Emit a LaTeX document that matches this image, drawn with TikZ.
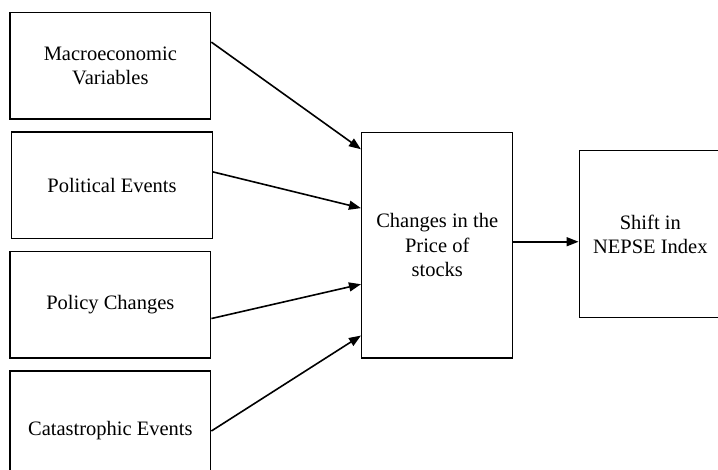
\documentclass[tikz,border=0pt]{standalone}
\usepackage{fontspec}
\setmainfont{Liberation Serif}
\usetikzlibrary{calc}
\usetikzlibrary{arrows.meta}
\usetikzlibrary{positioning}

\tikzset{
  factor/.style={draw, rectangle, line width=1.5pt, inner sep=0pt, align=center,
    minimum width=200.6pt, minimum height=106.3pt,
    font=\fontsize{20.5}{24.5}\selectfont},
  link/.style={->, line width=1.6pt}
}

\begin{document}
\begin{tikzpicture}[x=1pt, y=-1pt, line join=miter, >={Triangle[length=12pt, width=9pt]}]
  \clip (0,0) rectangle (718,470);
  %--- Causes
    \node[factor] (macro) at (110.35, 65.85) {Macroeconomic\\Variables};
    \node[factor] (polit) at (112, 185.3) {Political Events};
    \node[factor] (policy) at (110.35, 304.85) {Policy Changes};
    \node[factor, minimum height=120pt] (catas) at (110.35, 431) {Catastrophic Events};
  %--- Price of stocks
    \node[factor, minimum width=151pt, minimum height=225.7pt] (price) at (437.2, 245.15)
      {Changes in the\\Price of\\stocks};
  %--- NEPSE
    \node[factor, minimum width=142pt, minimum height=167pt] (nepse) at (650.3, 234.2)
      {Shift in\\NEPSE Index};
  %--- Links
    \draw[link] ($(macro.north east)!0.28!(macro.south east)$) -- ($(price.north west)!0.078!(price.south west)$);
    \draw[link] ($(polit.north east)!0.376!(polit.south east)$) -- ($(price.north west)!0.337!(price.south west)$);
    \draw[link] ($(policy.north east)!0.627!(policy.south east)$) -- ($(price.north west)!0.672!(price.south west)$);
    \draw[link] (catas.east) -- ($(price.north west)!0.898!(price.south west)$);
    \coordinate (out) at ($(price.north east)!0.485!(price.south east)$);
    \draw[link] (out) -- (out -| nepse.west);
\end{tikzpicture}
\end{document}
